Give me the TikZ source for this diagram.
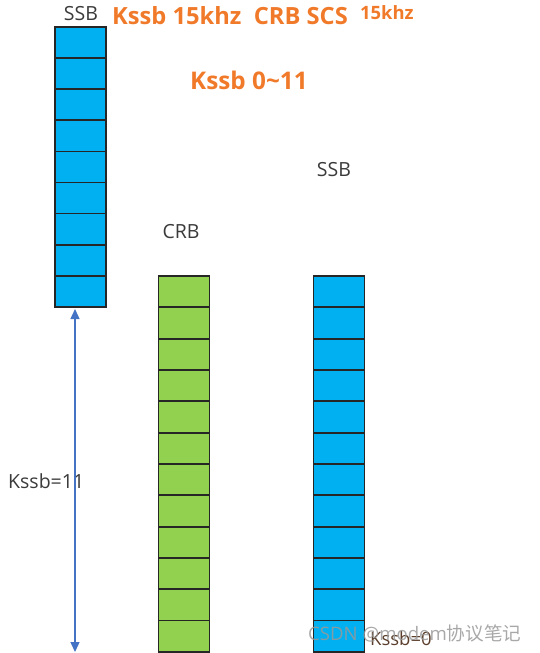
\documentclass[tikz,border=0pt]{standalone}
\usepackage{fontspec}
\setmainfont{Open Sans}
\newfontfamily\cjkwm{Noto Sans CJK SC}
\usetikzlibrary{arrows.meta}
\definecolor{ssbblue}{HTML}{00B0F0}
\definecolor{crbgreen}{HTML}{92D050}
\definecolor{cellline}{HTML}{262626}
\definecolor{orangetxt}{HTML}{F07A2A}
\definecolor{graytxt}{HTML}{3A3A3A}
\definecolor{arrowblue}{HTML}{4472C4}
\tikzset{
  cellbase/.style={draw=cellline, line width=1.7pt, inner sep=0pt, minimum width=51pt},
  ssbcell/.style={cellbase, fill=ssbblue, minimum height=31.1pt},
  crbcell/.style={cellbase, fill=crbgreen, minimum height=31.33pt},
  graylbl/.style={text=graytxt, font=\fontsize{19.5}{21}\selectfont, inner sep=0pt},
  orangelbl/.style={text=orangetxt, font=\bfseries\fontsize{23.7}{26}\selectfont, inner sep=0pt},
  dimarrow/.style={draw=arrowblue, line width=1.3pt, {Triangle[width=9pt,length=10pt]}-{Triangle[width=9pt,length=10pt]}},
}
\begin{document}
\begin{tikzpicture}[x=1pt,y=-1pt]
\useasboundingbox (0,0) rectangle (539,653);
% left SSB column
\foreach \i in {0,...,8}
  \node[ssbcell] (ls\i) at (80.5, 42.55+\i*31.1) {};
% CRB column
\foreach \i in {0,...,11}
  \node[crbcell] (cr\i) at (184, 291.67+\i*31.33) {};
% right SSB column
\foreach \i in {0,...,11}
  \node[ssbcell, minimum height=31.33pt] (rs\i) at (339, 291.67+\i*31.33) {};
% labels
\node[graylbl] (lssb) at (81,14) {SSB};
\node[graylbl] (lcrb) at (181,232) {CRB};
\node[graylbl] (rssb) at (334,170) {SSB};
\node[graylbl, anchor=west] (k11) at (8,481) {Kssb=11};
\node[text=graytxt!70!orangetxt!80!black, font=\fontsize{18.5}{20}\selectfont, inner sep=0pt, anchor=west] (k0) at (370,639) {Kssb=0};
\node[orangelbl, anchor=west] (title) at (112,16) {Kssb 15khz\ \ CRB SCS};
\node[text=orangetxt, font=\bfseries\fontsize{18.4}{20}\selectfont, inner sep=0pt, anchor=west] (t15) at (360,13) {15khz};
\node[orangelbl, font=\bfseries\fontsize{24.3}{26}\selectfont, anchor=west] (range) at (190,80) {Kssb 0\char`~11};
% dimension arrow
\coordinate (atop) at (75,309);
\coordinate (abot) at (75,652);
\draw[dimarrow] (atop) -- (abot);
% watermark
\node[text=gray!80, opacity=0.85, font=\fontsize{18.6}{20}\selectfont, inner sep=0pt, anchor=west] (wm) at (308,633) {CSDN @modem{\cjkwm 协议笔记}};
\end{tikzpicture}
\end{document}
